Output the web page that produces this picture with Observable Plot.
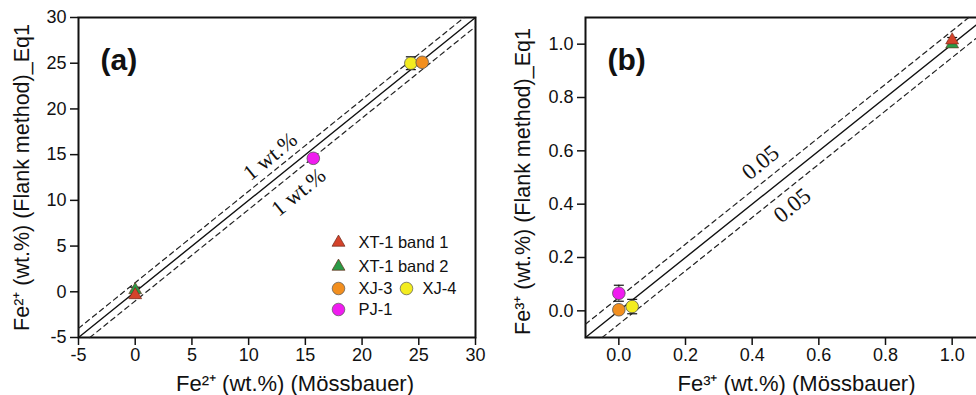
<!DOCTYPE html>
<html><head><meta charset="utf-8">
<script src="https://cdn.jsdelivr.net/npm/d3@7"></script>
<script src="https://cdn.jsdelivr.net/npm/@observablehq/plot@0.6"></script>
<style>
body{margin:0;background:#fff;}
#wrap{width:976px;height:395px;overflow:hidden;display:flex;position:relative;background:#fff;}
#wrap svg{flex:none;}
</style></head><body><div id="wrap"></div>
<script>
// ---- data ----
const samples = ["XT-1 band 1", "XT-1 band 2", "XJ-3", "XJ-4", "PJ-1"];
const sampleColors = ["#d4432b", "#2a9a47", "#f28f1f", "#f3ec1f", "#f01cf0"];
const sampleSymbols = ["triangle", "triangle", "circle", "circle", "circle"];
const drawOrder = ["XT-1 band 2", "XT-1 band 1", "XJ-4", "XJ-3", "PJ-1"];

// Panel (a): Fe2+
const fe2Mossbauer = [0.0, 0.0, 25.3, 24.3, 15.7];
const fe2Flank     = [-0.35, 0.2, 25.1, 25.0, 14.6];
const fe2Err       = [0.3, 0.3, 0.4, 0.7, 0.3];
// Panel (b): Fe3+
const fe3Mossbauer = [1.0, 1.0, 0.0, 0.04, 0.0];
const fe3Flank     = [1.015, 1.0, 0.004, 0.016, 0.066];
const fe3Err       = [0.01, 0.01, 0.01, 0.027, 0.03];

const aTicks = [-5, 0, 5, 10, 15, 20, 25, 30];
const bTicks = [0.0, 0.2, 0.4, 0.6, 0.8, 1.0];
const aDomain = [-5, 30];
const bDomain = [-0.1, 1.1];
const aBand = 1;      // ±1 wt.%
const bBand = 0.05;   // ±0.05
const aBandLabels = ["1 wt.%", "1 wt.%"];
const bBandLabels = ["0.05", "0.05"];

const legendItems = ["XT-1 band 1", "XT-1 band 2", "XJ-3", "XJ-4", "PJ-1"];

// ---- helpers ----
function rows(xs, ys, es) {
  const r = samples.map((s, i) => ({sample: s, x: xs[i], y: ys[i], e: es[i],
    color: sampleColors[i], symbol: sampleSymbols[i]}));
  return drawOrder.map(s => r.find(d => d.sample === s));
}
function lineSeg(dom, off) {
  const [lo, hi] = dom;
  if (off >= 0) return [{x: lo, y: lo + off}, {x: hi - off, y: hi}];
  return [{x: lo - off, y: lo}, {x: hi, y: hi + off}];
}
const capSymbol = {draw(ctx) { ctx.moveTo(-5, 0); ctx.lineTo(5, 0); }};
const TRI_R = 4.8, CIRC_R = 6.3;

function panel({width, marginLeft, marginRight, domain, ticks, fmt, band, bandLabels, labelPos, bandFont,
                data, xTitle, yTitle, tag, xTitleDx, yTitleDx, yTitleDy, legend}) {
  const tri = data.filter(d => d.symbol === "triangle");
  const circ = data.filter(d => d.symbol === "circle");
  const marks = [
    Plot.frame({stroke: "#111", strokeWidth: 2}),
    Plot.line(lineSeg(domain, 0), {x: "x", y: "y", stroke: "#111", strokeWidth: 1.4}),
    Plot.line(lineSeg(domain, band), {x: "x", y: "y", stroke: "#222", strokeWidth: 1.2, strokeDasharray: "5,4"}),
    Plot.line(lineSeg(domain, -band), {x: "x", y: "y", stroke: "#222", strokeWidth: 1.2, strokeDasharray: "5,4"}),
    Plot.text(bandLabels.map((t, i) => ({t, x: labelPos[i][0], y: labelPos[i][1]})),
      {x: "x", y: "y", text: "t", rotate: -39, fontFamily: "Liberation Serif, Times New Roman, serif",
       fontSize: bandFont, lineAnchor: "middle", textAnchor: "middle", fill: "#111"}),
    Plot.ruleX(data, {x: "x", y1: d => d.y - d.e, y2: d => d.y + d.e, stroke: "#111", strokeWidth: 1}),
    Plot.dot(data, {x: "x", y: d => d.y + d.e, symbol: capSymbol, stroke: "#111", strokeWidth: 1.2, fill: "none"}),
    Plot.dot(data, {x: "x", y: d => d.y - d.e, symbol: capSymbol, stroke: "#111", strokeWidth: 1.2, fill: "none"}),
    Plot.dot(tri, {x: "x", y: "y", fill: "color", symbol: "triangle", r: TRI_R, stroke: "#6a2a1a", strokeWidth: 0.6}),
    Plot.dot(circ, {x: "x", y: "y", fill: "color", symbol: "circle", r: CIRC_R, stroke: "#555", strokeWidth: 0.8}),
    Plot.axisX({ticks, tickFormat: fmt, tickSize: 8, tickPadding: 3, label: null, strokeWidth: 1.5, fontSize: 18}),
    Plot.axisY({ticks, tickFormat: fmt, tickSize: 8, tickPadding: 4, label: null, strokeWidth: 1.5, fontSize: 18}),
    Plot.text([xTitle], {frameAnchor: "bottom", dx: xTitleDx, dy: 46, fontSize: 22, textAnchor: "middle", lineAnchor: "middle", fill: "#111"}),
    Plot.text([yTitle], {frameAnchor: "left", dx: yTitleDx, dy: yTitleDy, rotate: -90, fontSize: 21.5, textAnchor: "middle", lineAnchor: "middle", fill: "#111"}),
    Plot.text([tag], {frameAnchor: "top-left", dx: 22, dy: 43, fontSize: 30, fontWeight: "bold",
      textAnchor: "start", lineAnchor: "middle", fill: "#111"})
  ];
  if (legend) {
    const rowDy = [225, 249, 271, 271, 292];
    const symDx = [260, 260, 260, 328, 260];
    const txtDx = [280, 280, 280, 344, 280];
    legendItems.forEach((name, k) => {
      const i = samples.indexOf(name);
      const isTri = sampleSymbols[i] === "triangle";
      marks.push(Plot.dot([name], {frameAnchor: "top-left", dx: symDx[k], dy: rowDy[k],
        symbol: sampleSymbols[i], r: isTri ? TRI_R : CIRC_R,
        fill: sampleColors[i], stroke: isTri ? "#6a2a1a" : "#555", strokeWidth: 0.7}));
      marks.push(Plot.text([name], {frameAnchor: "top-left", dx: txtDx[k], dy: rowDy[k],
        textAnchor: "start", lineAnchor: "middle", fontSize: 16.5, fill: "#111"}));
    });
  }
  return Plot.plot({
    width, height: 395, marginLeft, marginRight, marginTop: 17, marginBottom: 58,
    style: {fontFamily: "Liberation Sans, Arial, sans-serif", fontSize: "18px", color: "#111", background: "white", overflow: "visible"},
    x: {domain, type: "linear"},
    y: {domain, type: "linear"},
    marks
  });
}

const wrap = document.getElementById("wrap");
wrap.appendChild(panel({
  width: 490, marginLeft: 78, marginRight: 15, domain: aDomain, ticks: aTicks, fmt: d => String(d),
  band: aBand, bandLabels: aBandLabels, labelPos: [[11.9, 14.8], [14.4, 10.9]], bandFont: 22,
  data: rows(fe2Mossbauer, fe2Flank, fe2Err),
  xTitle: "Fe²⁺ (wt.%) (Mössbauer)", yTitle: "Fe²⁺ (wt.%) (Flank method)_Eq1", tag: "(a)",
  xTitleDx: 18, yTitleDx: -56, yTitleDy: 0, legend: true
}));
wrap.appendChild(panel({
  width: 505, marginLeft: 95, marginRight: 10, domain: bDomain, ticks: bTicks, fmt: d3.format(".1f"),
  band: bBand, bandLabels: bBandLabels, labelPos: [[0.425, 0.556], [0.52, 0.395]], bandFont: 23,
  data: rows(fe3Mossbauer, fe3Flank, fe3Err),
  xTitle: "Fe³⁺ (wt.%) (Mössbauer)", yTitle: "Fe³⁺ (wt.%) (Flank method)_Eq1", tag: "(b)",
  xTitleDx: 11, yTitleDx: -62, yTitleDy: 4, legend: false
}));
</script></body></html>
